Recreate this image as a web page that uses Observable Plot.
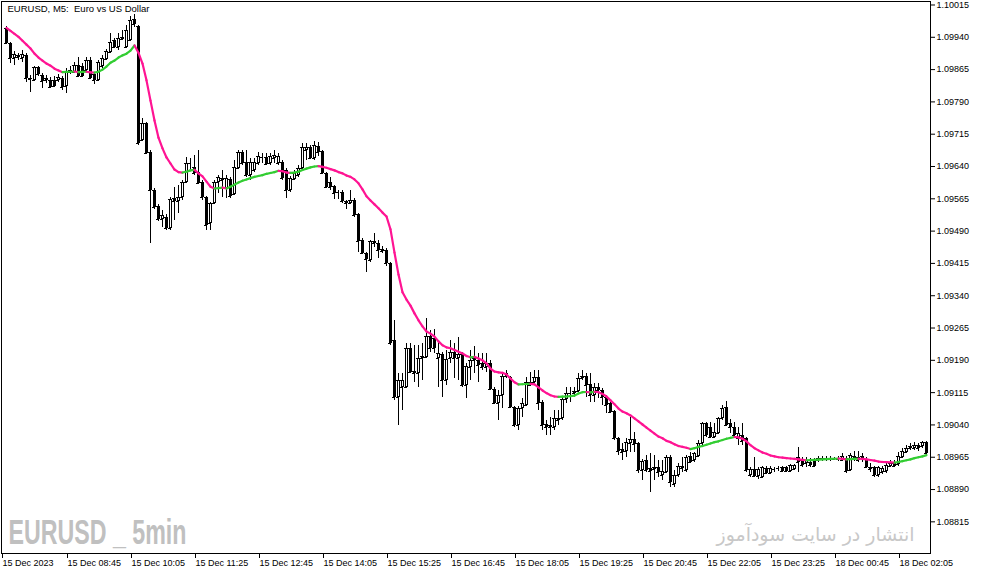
<!DOCTYPE html>
<html><head><meta charset="utf-8">
<script src="https://cdn.jsdelivr.net/npm/d3@7"></script>
<script src="https://cdn.jsdelivr.net/npm/@observablehq/plot@0.6"></script>
<style>
html,body{margin:0;padding:0;background:#fff;}
svg text{white-space:pre;}
</style></head><body><div id="chart"></div>
<script>
// EURUSD M5 prices in points (1.09960 = 109960)
const openPts = [109960,109925,109890,109897,109890,109897,109844,109839,109870,109851,109839,109839,109839,109839,109844,109825,109858,109858,109874,109872,109863,109886,109853,109839,109872,109888,109904,109932,109916,109939,109916,109932,109981,109965,
109700,109740,109672,109584,109547,109517,109522,109496,109566,109559,109568,109603,109647,109638,109626,109603,109568,109508,109554,109603,109612,109589,109610,109575,109635,109672,109649,109619,109631,109647,109661,109661,109647,109658,109647,109649,109631,109584,109610,109619,109635,109677,109684,109658,109686,109675,109624,109603,109593,109580,109580,109559,109554,109561,109529,109468,109438,109422,109466,109461,109447,109445,
109415,109236,109104,109127,109127,109218,109164,109160,109194,109197,109245,109241,109194,109204,109143,109194,109208,109194,109204,109132,109174,109190,109190,109183,109174,109183,109123,109090,109109,109153,109150,109081,109039,109078,109085,109132,109139,109150,109092,109041,109039,109034,109055,109055,109099,109113,109113,109118,109148,109153,109134,109109,109127,109120,109104,109090,109071,109009,108983,108979,108997,109007,
108997,108935,108958,108939,108937,108942,108923,108930,108965,108902,108923,108939,108935,108967,108958,108967,108997,109044,109034,109011,109020,109055,109081,109044,109034,109009,109016,109009,108923,108937,108921,108918,108939,108928,108937,108939,108942,108942,108932,108937,108965,108958,108951,108953,108958,108958,108962,108960,108962,108960,108962,108958,108962,108935,108962,108958,108962,108960,108942,108942,108923,108930,108932,108944,108951,108949,108965,108976,108986,108986,108993,108990,109000];
const highPts = [109965,109928,109907,109902,109909,109902,109851,109872,109872,109856,109851,109846,109849,109853,109849,109867,109872,109881,109893,109879,109893,109893,109856,109886,109897,109911,109948,109937,109948,109955,109967,109988,109993,109967,
109751,109742,109677,109589,109552,109538,109529,109568,109591,109596,109607,109661,109658,109665,109677,109607,109570,109556,109607,109619,109631,109619,109614,109654,109677,109677,109677,109658,109658,109672,109670,109670,109670,109677,109670,109654,109635,109617,109631,109642,109693,109693,109689,109698,109696,109677,109626,109614,109596,109584,109584,109561,109584,109566,109531,109473,109440,109468,109484,109468,109454,109450,
109417,109283,109160,109160,109229,109229,109225,109225,109229,109287,109259,109262,109236,109208,109213,109236,109229,109243,109208,109183,109213,109222,109206,109206,109206,109190,109127,109120,109160,109167,109153,109083,109083,109102,109150,109162,109167,109167,109097,109051,109058,109074,109074,109104,109127,109127,109127,109160,109167,109160,109160,109136,109136,109125,109109,109092,109074,109011,108997,109009,109058,109023,
109000,108960,108969,108974,108969,108958,108958,108969,108969,108935,108951,108965,108969,108976,108976,109004,109046,109046,109046,109044,109058,109085,109095,109053,109046,109034,109044,109011,108942,108965,108942,108944,108944,108944,108942,108944,108944,108944,108949,108949,108988,108965,108965,108962,108962,108967,108967,108967,108967,108965,108967,108974,108967,108974,108979,108979,108974,108965,108951,108944,108944,108944,108951,108958,108958,108976,108986,108993,108997,109000,108997,109002,109002];
const lowPts = [109923,109879,109874,109886,109881,109835,109812,109837,109849,109821,109832,109821,109823,109835,109816,109809,109853,109856,109846,109846,109858,109842,109830,109837,109867,109886,109902,109914,109909,109932,109914,109930,109962,109689,
109698,109668,109461,109540,109512,109498,109491,109491,109515,109531,109561,109600,109631,109619,109598,109561,109491,109491,109552,109577,109568,109566,109566,109573,109633,109642,109614,109607,109626,109642,109647,109642,109642,109647,109642,109607,109566,109580,109607,109614,109633,109654,109656,109654,109663,109621,109589,109584,109563,109563,109554,109540,109552,109522,109440,109436,109394,109417,109452,109426,109438,109408,
109225,109097,109039,109074,109125,109160,109139,109127,109143,109194,109208,109206,109127,109104,109132,109183,109148,109143,109127,109102,109143,109160,109139,109167,109162,109120,109088,109051,109078,109148,109078,109034,109027,109058,109083,109130,109136,109074,109027,109016,109016,109027,109039,109051,109090,109092,109104,109116,109143,109104,109092,109092,109102,109085,109067,109067,109004,108969,108958,108965,108976,108976,
108928,108911,108930,108884,108911,108918,108911,108928,108895,108895,108918,108930,108930,108951,108953,108965,108993,109011,109009,109009,109018,109051,109037,109020,109011,108993,108993,108930,108918,108918,108914,108916,108925,108925,108930,108932,108930,108930,108930,108935,108930,108942,108942,108942,108942,108953,108955,108955,108955,108958,108955,108955,108928,108932,108955,108953,108953,108939,108930,108918,108918,108925,108928,108942,108942,108944,108962,108974,108981,108981,108979,108986,108972];
const closePts = [109925,109890,109900,109893,109900,109844,109842,109870,109853,109837,109844,109823,109825,109846,109823,109858,109863,109874,109849,109849,109886,109844,109839,109881,109890,109907,109928,109916,109937,109935,109955,109979,109969,109693,
109740,109670,109584,109545,109517,109526,109496,109563,109559,109568,109603,109647,109646,109624,109600,109568,109503,109554,109603,109614,109607,109612,109570,109638,109672,109647,109619,109649,109649,109663,109660,109645,109663,109665,109663,109612,109584,109612,109624,109635,109684,109684,109658,109689,109672,109624,109591,109591,109577,109579,109559,109554,109561,109526,109466,109438,109424,109466,109461,109445,109443,109415,
109229,109104,109143,109143,109218,109162,109160,109194,109199,109245,109218,109218,109206,109143,109192,109208,109194,109204,109132,109176,109190,109194,109178,109174,109183,109123,109090,109109,109153,109160,109081,109039,109078,109090,109139,109139,109150,109090,109039,109034,109034,109055,109051,109099,109113,109112,109118,109148,109153,109132,109109,109127,109120,109104,109085,109069,109009,108979,108976,109000,109007,108995,
108935,108955,108935,108932,108942,108930,108932,108965,108907,108923,108944,108944,108965,108953,108974,108997,109044,109016,109011,109023,109055,109078,109039,109034,109016,109020,109002,108935,108937,108921,108937,108942,108928,108939,108936,108938,108932,108932,108946,108946,108953,108946,108958,108946,108944,108962,108960,108962,108960,108962,108960,108967,108932,108969,108967,108965,108967,108942,108937,108923,108942,108939,108946,108951,108944,108967,108979,108986,108990,108993,108986,109000,108974];
// colored moving average (points)
const maPts = [109962,109955,109948,109941,109932,109923,109914,109902,109893,109886,109879,109874,109867,109863,109859,109859.5,109860,109860.5,109859,109859.5,109860,109858.5,109858,109860,109865,109872,109881,109886,109893,109898,109902,109909,109921,109904,
109879,109840,109793,109747,109707,109682,109661,109647,109633,109627,109626,109628,109631,109632,109624,109617,109605,109593,109589,109590,109591,109589,109593,109598,109603,109607,109610,109613,109616,109618,109620,109623,109625,109627,109630,109629,109626,109625,109626,109628,109632,109635,109638,109640,109641,109639,109637,109634,109631,109627,109624,109619,109616,109610,109601,109587,109571,109561,109552,109543,109533,109524,
109494,109440,109389,109348,109331,109317,109299,109283,109269,109257,109252,109245,109234,109225,109220,109218,109214,109210,109206,109200,109197,109198,109194,109190,109183,109171,109164,109162,109161,109157,109148,109139,109134,109134.5,109135,109135.5,109134,109127,109120,109114,109109,109106,109105,109105.5,109106,109107,109108,109113,109116,109116.5,109115.5,109117,109116,109112,109106,109097,109088,109078,109071,109067,109062,109055,
109048,109041,109034,109027,109020,109013,109009,109003,109000,108995,108991,108989,108987,108984,108986,108989,108991,108994,108997,109000,109002,109005,109008,109010,109012,109011,109008,109002,108993,108986,108981,108976,108973,108969,108967,108965,108964,108963,108962,108961,108960,108959,108958,108958.5,108959,108959.5,108960,108960.5,108961,108961.5,108962,108961,108960,108960.5,108961,108961.5,108961,108960,108958.5,108957,108955,108954,108953.5,108953,108952.5,108954,108956,108958,108960,108963,108965,108967,108970];

const priceTicks = d3.range(17).map(k => (110015 - 75 * k) / 1e5);
const timeLabels = ["15 Dec 2023","15 Dec 08:45","15 Dec 10:05","15 Dec 11:25","15 Dec 12:45","15 Dec 14:05","15 Dec 15:25","15 Dec 16:45","15 Dec 18:05","15 Dec 19:25","15 Dec 20:45","15 Dec 22:05","15 Dec 23:25","18 Dec 00:45","18 Dec 02:05"];
const timeTickBars = [-1.25,15,31,47,63,79,95,111,127,143,159,175,191,207,223];
const titleText = "EURUSD, M5:  Euro vs US Dollar";
const wmLeft = "EURUSD _ 5min";
const wmRight = "انتشار در سایت سودآموز";

const bars = openPts.map((o, i) => ({
  i, o: o / 1e5, h: highPts[i] / 1e5, l: lowPts[i] / 1e5, c: closePts[i] / 1e5, ma: maPts[i] / 1e5
}));
const upBars = bars.filter(d => d.c > d.o);
const segs = bars.slice(1).map((b, k) => ({a: bars[k].i, ya: bars[k].ma, b: b.i, yb: b.ma, up: b.ma > bars[k].ma}));
const labelOf = new Map(timeTickBars.map((t, k) => [t, timeLabels[k]]));
const crisp = {shapeRendering: "crispEdges"};

const svg = Plot.plot({
  width: 983, height: 574,
  marginLeft: 1, marginRight: 53, marginTop: 1, marginBottom: 21,
  style: {fontFamily: "'Liberation Sans', Arial, sans-serif", fontSize: "9px", background: "#fff", color: "#000", overflow: "visible"},
  x: {domain: [-1.25, 231], axis: null},
  y: {domain: [1.087415, 1.100231], axis: null},
  color: {type: "identity"},
  marks: [
    Plot.text([wmLeft], {text: d => d, frameAnchor: "bottom-left", dx: 7, dy: -10, lineAnchor: "bottom", textAnchor: "start",
      fontSize: 35, fontWeight: "bold", fontFamily: "'Liberation Sans Narrow', 'Liberation Sans', sans-serif", fill: "#c0c0c0"}),
    Plot.text([wmRight], {text: d => d, frameAnchor: "bottom-left", dx: 715, dy: -13, lineAnchor: "bottom", textAnchor: "start",
      fontSize: 19, fontFamily: "'DejaVu Sans', sans-serif", fill: "#c8c8c8"}),
    // wicks
    Plot.ruleX(bars, {x: "i", y1: "l", y2: "h", stroke: "#000", strokeWidth: 1, ...crisp}),
    // bodies (3 px black)
    Plot.rect(bars, {x1: d => d.i - 0.375, x2: d => d.i + 0.375, y1: "o", y2: "c", fill: "#000", ...crisp}),
    // open / close edges (keeps dojis visible)
    Plot.ruleY(bars, {y: "o", x1: d => d.i - 0.375, x2: d => d.i + 0.375, dx: -0.5, stroke: "#000", ...crisp}),
    Plot.ruleY(bars, {y: "c", x1: d => d.i - 0.375, x2: d => d.i + 0.375, dx: -0.5, stroke: "#000", ...crisp}),
    // hollow interior of bullish candles
    Plot.rect(upBars, {x1: d => d.i - 0.125, x2: d => d.i + 0.125, y1: "o", y2: "c", insetTop: 1, insetBottom: 1, fill: "#fff", ...crisp}),
    Plot.link(segs, {x1: "a", y1: "ya", x2: "b", y2: "yb", stroke: d => d.up ? "#32cd32" : "#ff1493",
      strokeWidth: 2.2, strokeLinecap: "round"}),
    Plot.frame({stroke: "#000", ...crisp}),
    Plot.axisY(priceTicks, {anchor: "right", tickSize: 4, tickPadding: 2, tickFormat: d3.format(".5f"), fontSize: 9, label: null}),
    Plot.axisX(timeTickBars, {anchor: "bottom", tickSize: 5, tickPadding: 1, textAnchor: "start", dx: 1,
      tickFormat: d => labelOf.get(d), fontSize: 9, label: null}),
    Plot.text([titleText], {text: d => d, frameAnchor: "top-left", dx: 6, dy: 4, lineAnchor: "top", textAnchor: "start", fontSize: 9.5, fill: "#000"})
  ]
});
d3.select(svg).selectAll("text").each(function() {
  const t = this.textContent;
  if (t === wmLeft) { this.setAttribute("textLength", 178); this.setAttribute("lengthAdjust", "spacingAndGlyphs"); }
  if (t === wmRight) { this.setAttribute("textLength", 198); this.setAttribute("lengthAdjust", "spacingAndGlyphs"); }
});
document.getElementById("chart").appendChild(svg);
</script>
</body></html>
